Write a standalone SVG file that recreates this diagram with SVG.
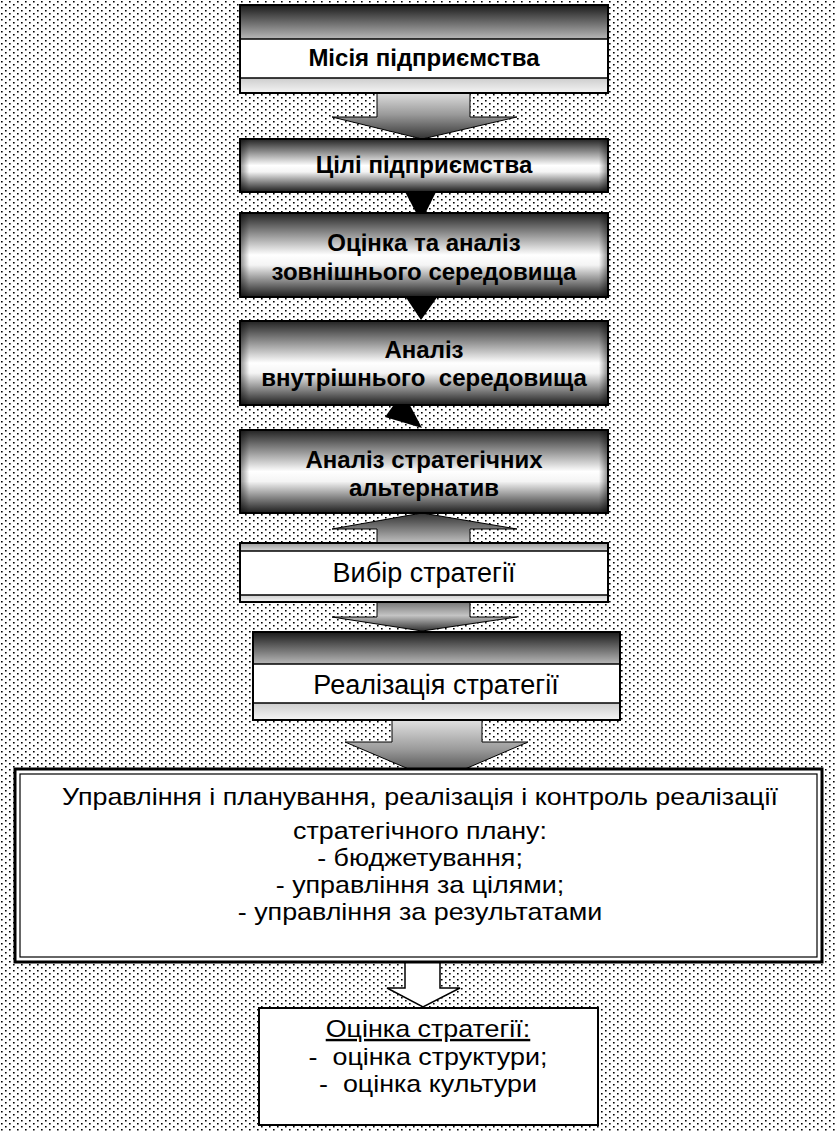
<svg xmlns="http://www.w3.org/2000/svg" width="836" height="1132" viewBox="0 0 836 1132">
<defs>
  <pattern id="dots" x="0" y="0" width="8" height="6" patternUnits="userSpaceOnUse">
    <rect width="8" height="6" fill="#ffffff"/>
    <rect x="1" y="1" width="1.6" height="1.5" fill="#000"/>
    <rect x="5" y="4" width="1.6" height="1.5" fill="#000"/>
  </pattern>
  <linearGradient id="gDarkTop" x1="0" y1="0" x2="0" y2="1">
    <stop offset="0" stop-color="#1a1a1a"/>
    <stop offset="1" stop-color="#b8b8b8"/>
  </linearGradient>
  <linearGradient id="gLightBand" x1="0" y1="0" x2="0" y2="1">
    <stop offset="0" stop-color="#cdcdcd"/>
    <stop offset="1" stop-color="#f5f5f5"/>
  </linearGradient>
  <linearGradient id="gGrayBand" x1="0" y1="0" x2="0" y2="1">
    <stop offset="0" stop-color="#9a9a9a"/>
    <stop offset="1" stop-color="#dadada"/>
  </linearGradient>
  <linearGradient id="gCyl" x1="0" y1="0" x2="0" y2="1">
    <stop offset="0" stop-color="#222222"/>
    <stop offset="0.5" stop-color="#ffffff"/>
    <stop offset="0.62" stop-color="#f4f4f4"/>
    <stop offset="1" stop-color="#1c1c1c"/>
  </linearGradient>
  <linearGradient id="gEdge" x1="0" y1="0" x2="1" y2="0">
    <stop offset="0" stop-color="#000" stop-opacity="0.45"/>
    <stop offset="0.025" stop-color="#000" stop-opacity="0"/>
    <stop offset="0.975" stop-color="#000" stop-opacity="0"/>
    <stop offset="1" stop-color="#000" stop-opacity="0.45"/>
  </linearGradient>
  <linearGradient id="gArrowDown" x1="0" y1="0" x2="0" y2="1">
    <stop offset="0" stop-color="#e6e6e6"/>
    <stop offset="0.5" stop-color="#9a9a9a"/>
    <stop offset="1" stop-color="#333333"/>
  </linearGradient>
  <linearGradient id="gArrowUp" x1="0" y1="0" x2="0" y2="1">
    <stop offset="0" stop-color="#303030"/>
    <stop offset="1" stop-color="#cfcfcf"/>
  </linearGradient>
  <linearGradient id="gArrowMid" x1="0" y1="0" x2="0" y2="1">
    <stop offset="0" stop-color="#6a6a6a"/>
    <stop offset="0.5" stop-color="#c4c4c4"/>
    <stop offset="1" stop-color="#303030"/>
  </linearGradient>
  <style>
    .frame { stroke: #000; stroke-width: 2; }
    .sep { stroke: #000; stroke-width: 1.5; }
    .arrow { stroke: #000; stroke-width: 1; }
    .tb { font-family: "Liberation Sans", Arial, sans-serif; font-weight: bold; font-size: 24px; fill: #000; text-anchor: middle; }
    .tr { font-family: "Liberation Sans", Arial, sans-serif; font-size: 27px; fill: #000; text-anchor: middle; }
    .tm { font-family: "Liberation Sans", Arial, sans-serif; font-size: 24px; fill: #000; text-anchor: middle; }
  </style>
</defs>

<rect x="0" y="0" width="836" height="1132" fill="url(#dots)"/>

<g id="connectors">
  <polygon class="arrow" fill="url(#gArrowDown)" points="377,90 470,90 470,117 517,117 422,139 332,117 377,117"/>
  <polygon fill="#000" points="403,188 438,188 421,222"/>
  <polygon fill="#000" points="405,296 438,296 421,320"/>
  <polygon fill="#000" points="403,392 385,417 422,428"/>
  <polygon class="arrow" fill="url(#gArrowUp)" points="422,513 517,529 470,529 470,546 377,546 377,529 332,529"/>
  <polygon class="arrow" fill="url(#gArrowMid)" points="377,600 470,600 470,617 517,617 422,631 332,617 377,617"/>
  <polygon class="arrow" fill="url(#gArrowDown)" points="392,718 482,718 482,742 528,742 437,781 345,742 392,742"/>
  <polygon fill="#ffffff" stroke="#000" stroke-width="1.5" points="405,960 440,960 440,988 460,988 423,1007 387,988 405,988"/>
</g>

<g id="n1">
  <rect x="240" y="5" width="368" height="34" fill="url(#gDarkTop)"/>
  <rect x="240" y="39" width="368" height="39" fill="#fff"/>
  <rect x="240" y="78" width="368" height="15" fill="url(#gLightBand)"/>
  <line class="sep" x1="240" y1="39" x2="608" y2="39"/>
  <line class="sep" x1="240" y1="78" x2="608" y2="78"/>
  <rect class="frame" x="240" y="5" width="368" height="88" fill="none"/>
  <text class="tb" x="424" y="66">Місія підприємства</text>
</g>

<g id="n2">
  <rect x="240" y="139" width="368" height="53" fill="url(#gCyl)"/>
  <rect x="240" y="139" width="368" height="53" fill="url(#gEdge)"/>
  <rect class="frame" x="240" y="139" width="368" height="53" fill="none"/>
  <text class="tb" x="424" y="173">Цілі підприємства</text>
</g>

<g id="n3">
  <rect x="240" y="213" width="368" height="84" fill="url(#gCyl)"/>
  <rect x="240" y="213" width="368" height="84" fill="url(#gEdge)"/>
  <rect class="frame" x="240" y="213" width="368" height="84" fill="none"/>
  <text class="tb" x="424" y="251">Оцінка та аналіз</text>
  <text class="tb" x="424" y="280">зовнішнього середовища</text>
</g>

<g id="n4">
  <rect x="240" y="321" width="368" height="84" fill="url(#gCyl)"/>
  <rect x="240" y="321" width="368" height="84" fill="url(#gEdge)"/>
  <rect class="frame" x="240" y="321" width="368" height="84" fill="none"/>
  <text class="tb" x="424" y="358">Аналіз</text>
  <text class="tb" x="424" y="386" xml:space="preserve">внутрішнього  середовища</text>
</g>

<g id="n5">
  <rect x="240" y="430" width="368" height="83" fill="url(#gCyl)"/>
  <rect x="240" y="430" width="368" height="83" fill="url(#gEdge)"/>
  <rect class="frame" x="240" y="430" width="368" height="83" fill="none"/>
  <text class="tb" x="424" y="468">Аналіз стратегічних</text>
  <text class="tb" x="424" y="496">альтернатив</text>
</g>

<g id="n6">
  <rect x="240" y="543" width="368" height="8" fill="url(#gGrayBand)"/>
  <rect x="240" y="551" width="368" height="44" fill="#fff"/>
  <rect x="240" y="595" width="368" height="7" fill="url(#gLightBand)"/>
  <line class="sep" x1="240" y1="551" x2="608" y2="551"/>
  <line class="sep" x1="240" y1="595" x2="608" y2="595"/>
  <rect class="frame" x="240" y="543" width="368" height="59" fill="none"/>
  <text class="tr" x="424" y="582">Вибір стратегії</text>
</g>

<g id="n7">
  <rect x="253" y="632" width="367" height="32" fill="url(#gDarkTop)"/>
  <rect x="253" y="664" width="367" height="39" fill="#fff"/>
  <rect x="253" y="703" width="367" height="17" fill="url(#gLightBand)"/>
  <line class="sep" x1="253" y1="664" x2="620" y2="664"/>
  <line class="sep" x1="253" y1="703" x2="620" y2="703"/>
  <rect class="frame" x="253" y="632" width="367" height="88" fill="none"/>
  <text class="tr" x="436" y="694">Реалізація стратегії</text>
</g>

<g id="n8">
  <rect x="15" y="769" width="807" height="193" fill="#fff" stroke="#000" stroke-width="3"/>
  <rect x="20" y="774" width="797" height="183" fill="none" stroke="#000" stroke-width="1.2"/>
  <g transform="translate(420 0) scale(1.12 1) translate(-420 0)">
    <text class="tm" x="420" y="805">Управління і планування, реалізація і контроль реалізації</text>
    <text class="tm" x="420" y="839">стратегічного плану:</text>
    <text class="tm" x="420" y="866">- бюджетування;</text>
    <text class="tm" x="420" y="893">- управління за цілями;</text>
    <text class="tm" x="420" y="920">- управління за результатами</text>
  </g>
</g>

<g id="n9">
  <rect x="259" y="1008" width="339" height="117" fill="#fff" stroke="#000" stroke-width="2"/>
  <g transform="translate(428 0) scale(1.12 1) translate(-428 0)">
    <text class="tm" x="428" y="1037" text-decoration="underline">Оцінка стратегії:</text>
    <text class="tm" x="428" y="1065" xml:space="preserve">-  оцінка структури;</text>
    <text class="tm" x="428" y="1092" xml:space="preserve">-  оцінка культури</text>
  </g>
</g>
</svg>
